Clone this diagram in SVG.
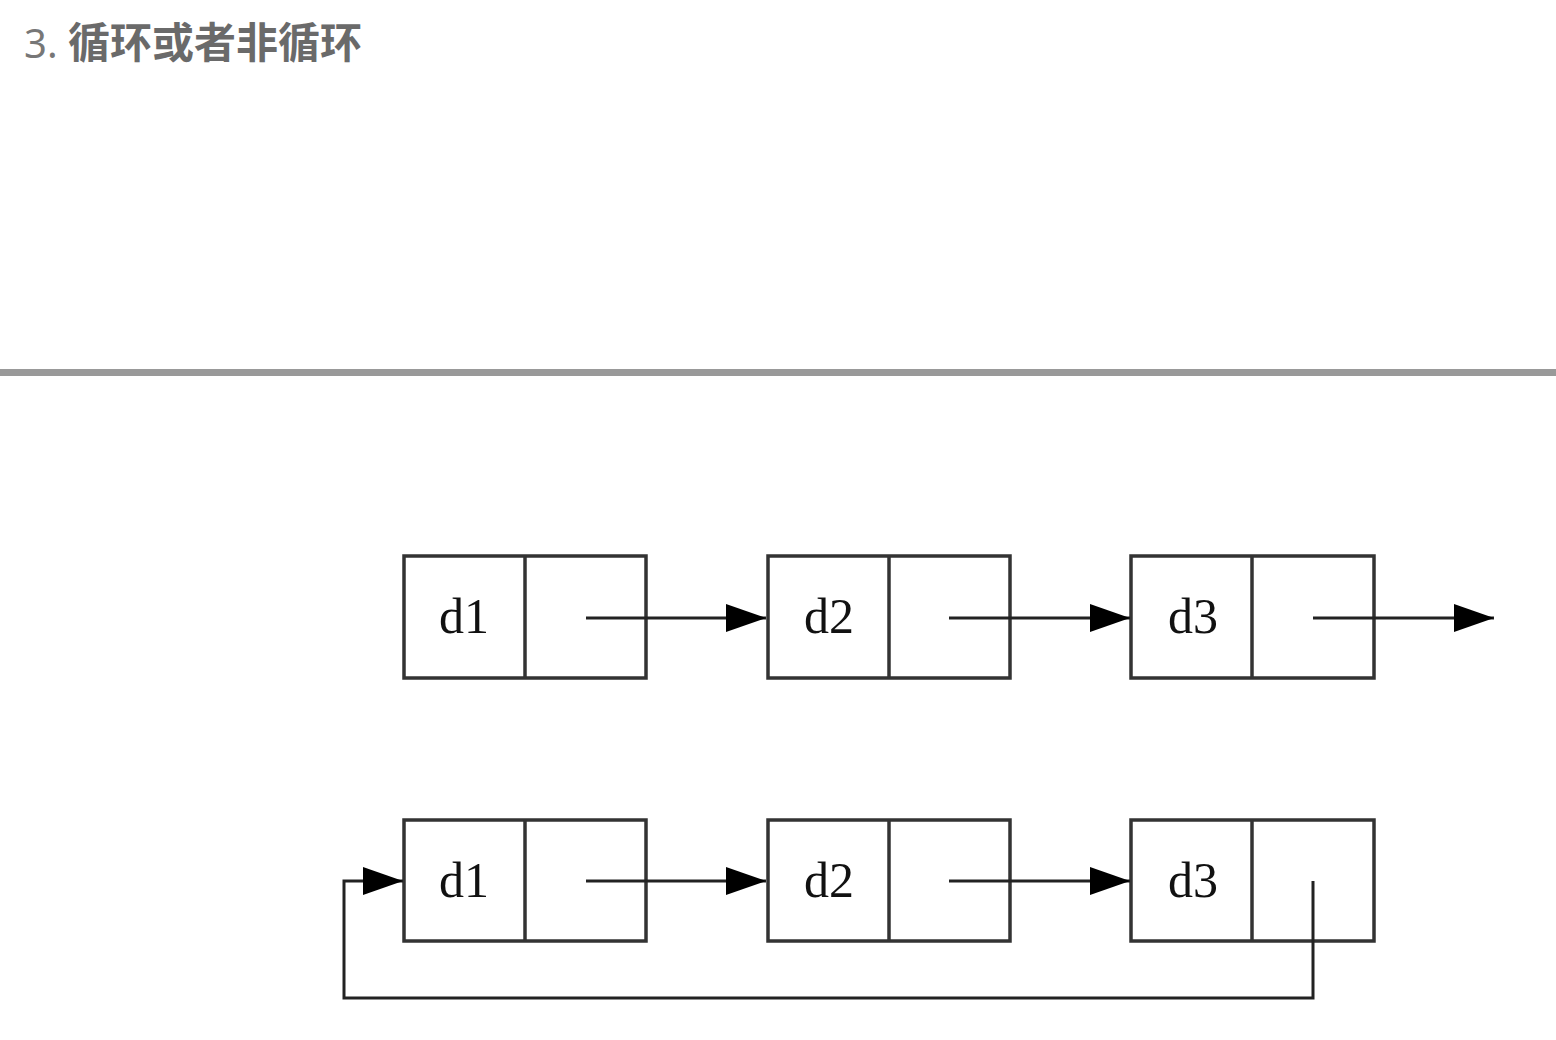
<svg xmlns="http://www.w3.org/2000/svg" width="1556" height="1040" viewBox="0 0 1556 1040">
<style>
.box{fill:none;stroke:#333;stroke-width:3.5}
.lbl{font-family:"Liberation Serif","Times New Roman",serif;font-size:50px;fill:#111;text-anchor:middle}
.arr{fill:none;stroke:#222;stroke-width:3;marker-end:url(#ah)}
</style>
<defs>
<marker id="ah" markerWidth="40" markerHeight="30" refX="40" refY="15" markerUnits="userSpaceOnUse" orient="auto">
<path d="M0,1 L40,15 L0,29 Z" fill="#000"/>
</marker>
</defs>
<rect width="1556" height="1040" fill="#fff"/>
<text x="24" y="58" font-family="'Noto Sans','Noto Sans CJK SC',sans-serif" font-size="40" fill="#777"><tspan>3.</tspan><tspan x="68" font-size="42" font-weight="bold" font-family="'Noto Sans CJK SC',sans-serif" fill="#6a6a6a">循环或者非循环</tspan></text>
<rect x="0" y="369" width="1556" height="7" fill="#999"/>
<g id="r1n1"><rect class="box" x="404" y="556" width="242" height="122"/><line class="box" x1="525" y1="556" x2="525" y2="678"/><text class="lbl" x="464" y="633">d1</text></g>
<g id="r1n2"><rect class="box" x="768" y="556" width="242" height="122"/><line class="box" x1="889" y1="556" x2="889" y2="678"/><text class="lbl" x="829" y="633">d2</text></g>
<g id="r1n3"><rect class="box" x="1131" y="556" width="243" height="122"/><line class="box" x1="1252" y1="556" x2="1252" y2="678"/><text class="lbl" x="1193" y="633">d3</text></g>
<g id="r2n1"><rect class="box" x="404" y="820" width="242" height="121"/><line class="box" x1="525" y1="820" x2="525" y2="941"/><text class="lbl" x="464" y="897">d1</text></g>
<g id="r2n2"><rect class="box" x="768" y="820" width="242" height="121"/><line class="box" x1="889" y1="820" x2="889" y2="941"/><text class="lbl" x="829" y="897">d2</text></g>
<g id="r2n3"><rect class="box" x="1131" y="820" width="243" height="121"/><line class="box" x1="1252" y1="820" x2="1252" y2="941"/><text class="lbl" x="1193" y="897">d3</text></g>
<g id="connectors">
<path class="arr" d="M586,618 H766"/>
<path class="arr" d="M949,618 H1130"/>
<path class="arr" d="M1313,618 H1494"/>
<path class="arr" d="M586,881 H766"/>
<path class="arr" d="M949,881 H1130"/>
<path class="arr" d="M1313,881 V998 H344 V881 H403"/>
</g>
</svg>
